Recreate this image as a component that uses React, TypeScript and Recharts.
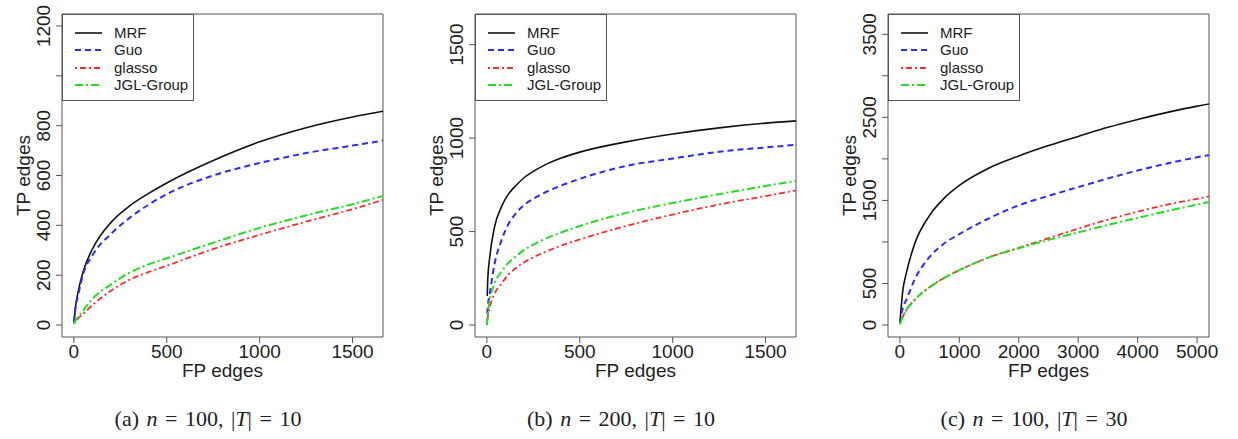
import { LineChart, Line, XAxis, YAxis, ReferenceArea, Legend } from 'recharts';

// panel (a) n = 100, |T| = 10
const xA = [0, 10, 25, 50, 100, 200, 300, 400, 500, 750, 1000, 1250, 1500, 1664];
const mrfA = [10, 80, 141, 215, 305, 412, 478, 527, 570, 660, 735, 792, 835, 858];
const guoA = [10, 75, 127, 205, 280, 366, 430, 482, 525, 600, 650, 690, 720, 740];
const glassoA = [5, 15, 28, 45, 80, 138, 182, 212, 238, 305, 362, 415, 465, 502];
const jglA = [5, 20, 35, 58, 105, 163, 210, 243, 268, 330, 390, 440, 485, 518];

// panel (b) n = 200, |T| = 10
const xB = [0, 2, 5, 15, 40, 80, 115, 150, 200, 250, 300, 400, 500, 750, 1000, 1250, 1500, 1664];
const mrfB = [null, 155, 250, 360, 520, 636, 699, 740, 788, 822, 850, 893, 925, 980, 1022, 1055, 1080, 1092];
const guoB = [null, 60, 100, 165, 320, 457, 538, 590, 642, 675, 703, 746, 782, 851, 891, 927, 950, 964];
const glassoB = [0, 20, 45, 95, 165, 224, 269, 300, 335, 362, 385, 425, 458, 530, 591, 645, 690, 720];
const jglB = [0, 25, 60, 130, 220, 287, 332, 362, 402, 430, 455, 495, 530, 600, 653, 700, 744, 771];

// panel (c) n = 100, |T| = 30
const xC = [0, 50, 100, 250, 500, 750, 1000, 1500, 2000, 2500, 3000, 3500, 4000, 4500, 5000, 5200];
const mrfC = [20, 420, 600, 980, 1320, 1530, 1680, 1890, 2035, 2160, 2270, 2380, 2475, 2560, 2635, 2660];
const guoC = [20, 210, 290, 550, 820, 985, 1095, 1285, 1440, 1555, 1660, 1765, 1860, 1945, 2020, 2045];
const glassoC = [10, 100, 170, 305, 455, 570, 660, 815, 930, 1045, 1160, 1270, 1365, 1450, 1520, 1548];
const jglC = [10, 100, 170, 305, 455, 570, 660, 815, 925, 1025, 1115, 1205, 1290, 1372, 1450, 1480];

const SERIES = [
  { key: 'mrf', name: 'MRF', color: '#111111', dash: undefined, width: 1.6 },
  { key: 'guo', name: 'Guo', color: '#2b2bff', dash: '6 4', width: 2 },
  { key: 'glasso', name: 'glasso', color: '#ff2a2a', dash: '2 3 6 3', width: 1.8 },
  { key: 'jgl', name: 'JGL-Group', color: '#22dd22', dash: '8 3 2 3', width: 2 },
];

const FONT = '"Liberation Sans", Arial, Helvetica, sans-serif';
const TEXT = '#222';
const FRAME = '#555';
const FS = 19;

const buildRows = (x: number[], mrf: any[], guo: any[], glasso: any[], jgl: any[]) =>
  x.map((v, i) => ({ x: v, mrf: mrf[i], guo: guo[i], glasso: glasso[i], jgl: jgl[i] }));

const makeYTick = (labels: number[]) => (props: any) => {
  const { x, y, payload } = props;
  if (!labels.includes(payload.value)) return <g />;
  return (
    <text
      x={x}
      y={y}
      transform={`rotate(-90, ${x}, ${y})`}
      textAnchor="middle"
      fontSize={FS}
      fontFamily={FONT}
      fill={TEXT}
    >
      {payload.value}
    </text>
  );
};

const renderLegend = () => (
  <div
    style={{
      width: 132,
      height: 87,
      border: `1px solid ${FRAME}`,
      boxSizing: 'border-box',
      position: 'relative',
      fontFamily: FONT,
    }}
  >
    {SERIES.map((s, i) => (
      <div key={s.key} style={{ position: 'absolute', left: 0, top: 9 + i * 17.3, height: 18, width: 130 }}>
        <svg width={42} height={18} style={{ position: 'absolute', left: 0, top: 0 }}>
          <line x1={12} x2={39} y1={9} y2={9} stroke={s.color} strokeWidth={s.width} strokeDasharray={s.dash} />
        </svg>
        <span style={{ position: 'absolute', left: 51, top: 0, lineHeight: '18px', fontSize: 15, color: TEXT, whiteSpace: 'nowrap' }}>
          {s.name}
        </span>
      </div>
    ))}
  </div>
);

type PanelProps = {
  left: number;
  rows: any[];
  xDomain: [number, number];
  xTicks: number[];
  yDomain: [number, number];
  yTicks: number[];
  yLabels: number[];
  caption: React.ReactNode;
};

function Panel({ left, rows, xDomain, xTicks, yDomain, yTicks, yLabels, caption }: PanelProps) {
  return (
    <div style={{ position: 'absolute', left, top: 0, width: 410, height: 439 }}>
      <LineChart width={410} height={439} data={rows} margin={{ top: 14, right: 27, left: 22, bottom: 56 }}>
        <XAxis
          dataKey="x"
          type="number"
          domain={xDomain}
          ticks={xTicks}
          allowDataOverflow
          axisLine={false}
          tickSize={6}
          tickMargin={2}
          height={46}
          stroke={FRAME}
          tick={{ fontSize: FS, fill: TEXT, fontFamily: FONT }}
          label={{
            content: (p: any) => {
              const vb = p.viewBox || {};
              return (
                <text x={vb.x + vb.width / 2} y={377} textAnchor="middle" fontSize={FS} fontFamily={FONT} fill={TEXT}>
                  FP edges
                </text>
              );
            },
          }}
        />
        <YAxis
          type="number"
          domain={yDomain}
          ticks={yTicks}
          allowDataOverflow
          axisLine={false}
          tickSize={6}
          tickMargin={6}
          width={40}
          stroke={FRAME}
          interval={0}
          tick={makeYTick(yLabels)}
          label={{
            content: (p: any) => {
              const vb = p.viewBox || {};
              const cx = 30;
              const cy = vb.y + vb.height / 2;
              return (
                <text
                  x={cx}
                  y={cy}
                  transform={`rotate(-90, ${cx}, ${cy})`}
                  textAnchor="middle"
                  fontSize={FS}
                  fontFamily={FONT}
                  fill={TEXT}
                >
                  TP edges
                </text>
              );
            },
          }}
        />
        <ReferenceArea
          x1={xDomain[0]}
          x2={xDomain[1]}
          y1={yDomain[0]}
          y2={yDomain[1]}
          fill="none"
          fillOpacity={0}
          stroke={FRAME}
          strokeWidth={1}
          ifOverflow="visible"
        />
        {SERIES.map((s) => (
          <Line
            key={s.key}
            dataKey={s.key}
            name={s.name}
            type="monotone"
            stroke={s.color}
            strokeWidth={s.width}
            strokeDasharray={s.dash}
            dot={false}
            isAnimationActive={false}
          />
        ))}
        <Legend
          layout="horizontal"
          verticalAlign="middle"
          align="center"
          content={renderLegend}
          wrapperStyle={{ position: 'absolute', left: 62, top: 14, width: 132, height: 87 }}
        />
      </LineChart>
      <div
        style={{
          position: 'absolute',
          left: 0,
          width: 416,
          top: 406,
          textAlign: 'center',
          fontFamily: '"Liberation Serif", "Times New Roman", serif',
          fontSize: 22,
          wordSpacing: 2,
          color: TEXT,
          whiteSpace: 'nowrap',
        }}
      >
        {caption}
      </div>
    </div>
  );
}

export default function App() {
  return (
    <div style={{ position: 'absolute', left: 0, top: 0, width: 1238, height: 439, background: '#fff' }}>
      <Panel
        left={0}
        rows={buildRows(xA, mrfA, guoA, glassoA, jglA)}
        xDomain={[-64, 1664]}
        xTicks={[0, 500, 1000, 1500]}
        yDomain={[-48, 1248]}
        yTicks={[0, 200, 400, 600, 800, 1000, 1200]}
        yLabels={[0, 200, 400, 600, 800, 1200]}
        caption={<>(a) <i>n</i> = 100, |<i>T</i>| = 10</>}
      />
      <Panel
        left={413}
        rows={buildRows(xB, mrfB, guoB, glassoB, jglB)}
        xDomain={[-64, 1664]}
        xTicks={[0, 500, 1000, 1500]}
        yDomain={[-64, 1664]}
        yTicks={[0, 500, 1000, 1500]}
        yLabels={[0, 500, 1000, 1500]}
        caption={<>(b) <i>n</i> = 200, |<i>T</i>| = 10</>}
      />
      <Panel
        left={826}
        rows={buildRows(xC, mrfC, guoC, glassoC, jglC)}
        xDomain={[-200, 5200]}
        xTicks={[0, 1000, 2000, 3000, 4000, 5000]}
        yDomain={[-144, 3744]}
        yTicks={[0, 500, 1000, 1500, 2000, 2500, 3000, 3500]}
        yLabels={[0, 500, 1500, 2500, 3500]}
        caption={<>(c) <i>n</i> = 100, |<i>T</i>| = 30</>}
      />
    </div>
  );
}
